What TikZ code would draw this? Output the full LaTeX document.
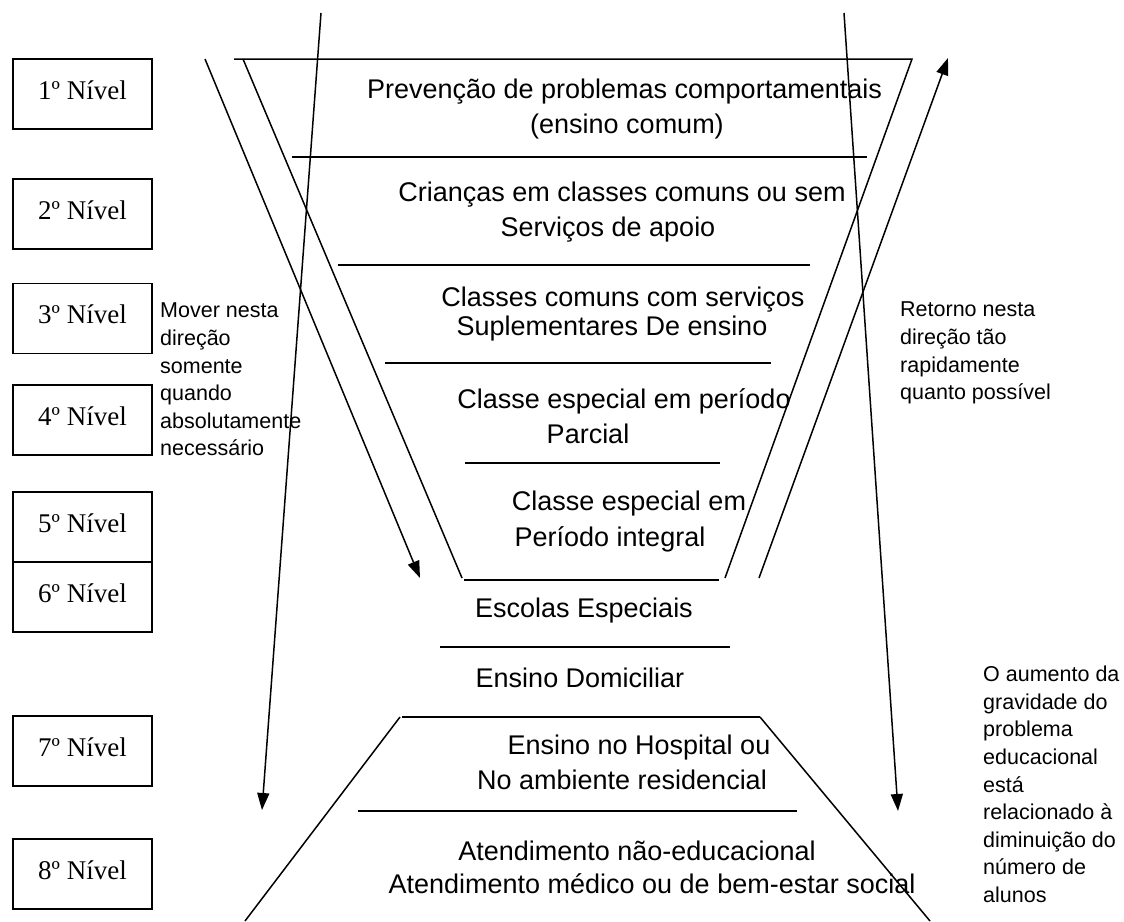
\documentclass[tikz,border=0pt]{standalone}
\usepackage{fontspec}
\setmainfont{Liberation Serif}
\newfontfamily\arial{Liberation Sans}
\usetikzlibrary{arrows.meta}
\begin{document}
\begin{tikzpicture}[x=1pt,y=-1pt,
  lvl/.style={draw,line width=1.4pt,minimum width=139pt,minimum height=70pt,inner sep=0pt,text height=20pt,text depth=10pt,font=\fontsize{27}{30}\selectfont},
  ln/.style={line width=1.5pt},
  arr/.style={line width=1.5pt,-{Triangle[length=17pt,width=12pt]}},
  ft/.style={font=\arial\fontsize{27}{35}\selectfont,inner sep=0pt,anchor=base},
  st/.style={font=\arial\fontsize{21.5}{27.6}\selectfont,align=left,inner sep=0pt,anchor=north west}
]
\useasboundingbox (0,0) rectangle (1124,921);
\fill[white] (0,0) rectangle (1124,921);

% level boxes
\node[lvl] (n1) at (82.5,94) {1º Nível};
\node[lvl] (n2) at (82.5,214) {2º Nível};
\node[lvl] (n3) at (82.5,318.5) {3º Nível};
\node[lvl] (n4) at (82.5,420) {4º Nível};
\node[lvl] (n5) at (82.5,527) {5º Nível};
\node[lvl] (n6) at (82.5,597) {6º Nível};
\node[lvl] (n7) at (82.5,751) {7º Nível};
\node[lvl] (n8) at (82.5,874) {8º Nível};

% funnel coordinates
\coordinate (ftl) at (234,59);
\coordinate (ftr) at (912,59);
\coordinate (fil) at (243,59);
\coordinate (fbl) at (462,578);
\coordinate (fbr) at (725,578);
\draw[ln] (ftl) -- (ftr) -- (fbr);
\draw[ln] (fil) -- (fbl);

% separators
\coordinate (s1a) at (292,157); \coordinate (s1b) at (867,157);
\coordinate (s2a) at (338,265); \coordinate (s2b) at (810,265);
\coordinate (s3a) at (385,363); \coordinate (s3b) at (771,363);
\coordinate (s4a) at (465,463); \coordinate (s4b) at (720,463);
\coordinate (s5a) at (464,580); \coordinate (s5b) at (719,580);
\coordinate (s6a) at (440,647); \coordinate (s6b) at (730,647);
\coordinate (s7a) at (402,717); \coordinate (s7b) at (760,717);
\coordinate (s8a) at (358,811); \coordinate (s8b) at (797,811);
\foreach \i in {1,...,8} {\draw[ln] (s\i a) -- (s\i b);}

% lower trapezoid sides
\coordinate (tl) at (400,717);
\coordinate (tr) at (760,717);
\coordinate (bl) at (245,921);
\coordinate (br) at (930,921);
\draw[ln] (tl) -- (bl);
\draw[ln] (tr) -- (br);

% arrows
\coordinate (a1s) at (205,59); \coordinate (a1e) at (420,578);
\coordinate (a2s) at (759,578); \coordinate (a2e) at (948,58);
\coordinate (a3s) at (321,13); \coordinate (a3e) at (262,810);
\coordinate (a4s) at (844,13); \coordinate (a4e) at (898,811);
\draw[arr] (a1s) -- (a1e);
\draw[arr] (a2s) -- (a2e);
\draw[arr] (a3s) -- (a3e);
\draw[arr] (a4s) -- (a4e);

% funnel texts
\node[ft] (t1a) at (624.5,98.5) {Prevenção de problemas comportamentais};
\node[ft] (t1b) at (627,133.5) {(ensino comum)};
\node[ft] (t2a) at (622,201.5) {Crianças em classes comuns ou sem};
\node[ft] (t2b) at (608,236.5) {Serviços de apoio};
\node[ft] (t3a) at (623,306.5) {Classes comuns com serviços};
\node[ft] (t3b) at (612,335.5) {Suplementares De ensino};
\node[ft] (t4a) at (624,408.5) {Classe especial em período};
\node[ft] (t4b) at (588,443.5) {Parcial};
\node[ft] (t5a) at (629,510.5) {Classe especial em};
\node[ft] (t5b) at (610,546.5) {Período integral};
\node[ft] (t6) at (584,617.5) {Escolas Especiais};
\node[ft] (t7) at (580,687.5) {Ensino Domiciliar};
\node[ft] (t8a) at (639,754.5) {Ensino no Hospital ou};
\node[ft] (t8b) at (622,789.5) {No ambiente residencial};
\node[ft] (t9a) at (637,860.5) {Atendimento não-educacional};
\node[ft] (t9b) at (652,893.5) {Atendimento médico ou de bem-estar social};

% side texts
\node[st] (mover) at (160,303) {Mover nesta\\direção\\somente\\quando\\absolutamente\\necessário};
\node[st] (retorno) at (900,302) {Retorno nesta\\direção tão\\rapidamente\\quanto possível};
\node[st] (aumento) at (983,666) {O aumento da\\gravidade do\\problema\\educacional\\está\\relacionado à\\diminuição do\\número de\\alunos};
\end{tikzpicture}
\end{document}
